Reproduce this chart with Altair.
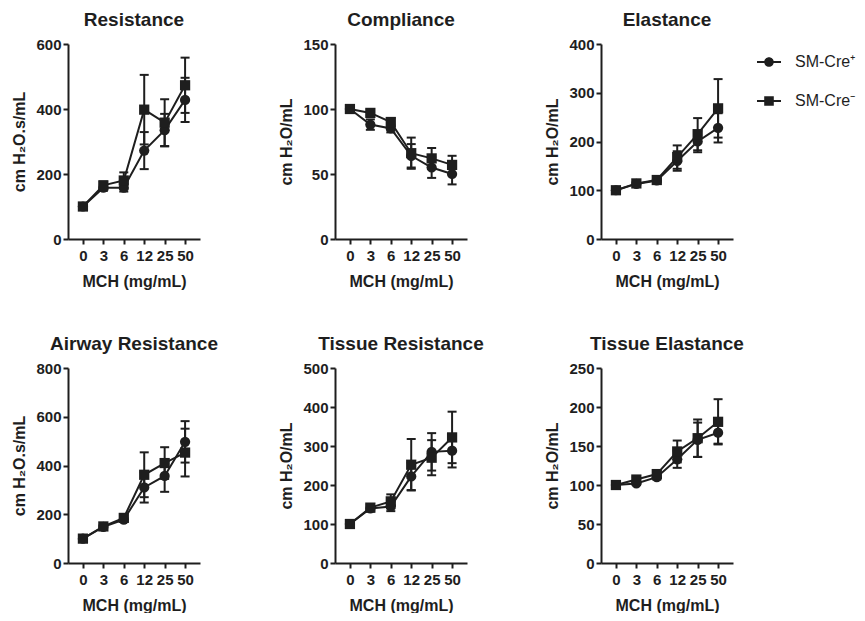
import altair as alt
import pandas as pd

doses = ["0", "3", "6", "12", "25", "50"]
series = ["SM-Cre\u207a", "SM-Cre\u207b"]

# Resistance
res_pos = [100, 158, 158, 272, 335, 428]
res_pos_sem = [0, 10, 12, 57, 50, 68]
res_neg = [100, 165, 180, 398, 358, 473]
res_neg_sem = [0, 12, 25, 107, 72, 85]
# Compliance
comp_pos = [100, 88, 85, 64, 55, 50]
comp_pos_sem = [0, 4, 3, 9, 8, 8]
comp_neg = [100, 97, 90, 66, 62, 57]
comp_neg_sem = [0, 2, 3, 12, 8, 7]
# Elastance
el_pos = [100, 113, 120, 160, 200, 228]
el_pos_sem = [0, 3, 4, 20, 22, 30]
el_neg = [100, 114, 121, 168, 215, 268]
el_neg_sem = [0, 3, 4, 24, 33, 60]
# Airway Resistance
aw_pos = [100, 148, 178, 310, 357, 497]
aw_pos_sem = [0, 6, 8, 62, 65, 85]
aw_neg = [100, 150, 185, 362, 410, 453]
aw_neg_sem = [0, 6, 10, 92, 65, 98]
# Tissue Resistance
tr_pos = [100, 140, 145, 222, 285, 288]
tr_pos_sem = [0, 8, 12, 35, 48, 43]
tr_neg = [100, 142, 158, 252, 270, 322]
tr_neg_sem = [0, 8, 18, 66, 45, 66]
# Tissue Elastance
te_pos = [100, 102, 110, 133, 158, 167]
te_pos_sem = [0, 2, 3, 11, 22, 14]
te_neg = [100, 107, 114, 143, 160, 181]
te_neg_sem = [0, 3, 5, 14, 24, 29]

INK = "#1e1e1e"
FONT = "Liberation Sans"

# legend glyphs: short (filled) bar through a marker
CIRC = "M-1,-0.08H1V0.08H-1ZM0.4,0A0.4,0.4,0,1,1,-0.4,0A0.4,0.4,0,1,1,0.4,0Z"
SQR = "M-1,-0.08H1V0.08H-1ZM-0.4,-0.4H0.4V0.4H-0.4Z"


def panel(title, ytitle, ymax, ystep, pos, pos_e, neg, neg_e, with_legend=False):
    rows = []
    for s, m, e in ((series[0], pos, pos_e), (series[1], neg, neg_e)):
        for i, d in enumerate(doses):
            rows.append({"series": s, "dose": d, "idx": i, "mean": m[i],
                         "lo": m[i] - e[i], "hi": m[i] + e[i]})
    df = pd.DataFrame(rows)

    x = alt.X("dose:N", sort=doses,
              scale=alt.Scale(type="point", padding=0.73),
              axis=alt.Axis(title="MCH (mg/mL)", labelAngle=0))
    yscale = alt.Scale(domain=[0, ymax], nice=False, zero=True)
    yaxis = alt.Axis(title=ytitle, values=list(range(0, ymax + 1, ystep)))

    def Y(f):
        return alt.Y(f"{f}:Q", scale=yscale, axis=yaxis)

    base = alt.Chart(df).encode(x=x)
    lines = base.mark_line(color=INK, strokeWidth=2).encode(
        y=Y("mean"), detail="series:N", order="idx:Q")
    bars = base.mark_rule(color=INK, strokeWidth=2).encode(y=Y("lo"), y2="hi:Q")
    cap_hi = base.mark_tick(color=INK, size=9, thickness=2, opacity=1).encode(y=Y("hi"))
    cap_lo = base.mark_tick(color=INK, size=9, thickness=2, opacity=1).encode(y=Y("lo"))
    pts = base.mark_point(filled=True, size=105, opacity=1, color=INK).encode(
        y=Y("mean"),
        shape=alt.Shape("series:N", scale=alt.Scale(domain=series, range=["circle", "square"]),
                        legend=None),
    )
    layers = [lines, bars, cap_hi, cap_lo, pts]
    if with_legend:
        leg = base.transform_filter("false").mark_point(
            filled=True, size=100, color=INK).encode(
            y=Y("mean"),
            shape=alt.Shape(
                "series:N",
                scale=alt.Scale(domain=series, range=[CIRC, SQR]),
                legend=alt.Legend(
                    title=None, orient="none", legendX=156, legendY=6,
                    symbolSize=576, symbolStrokeWidth=0,
                    symbolFillColor=INK, symbolOpacity=1,
                    labelFont=FONT, labelFontSize=16, labelColor=INK,
                    labelOffset=14, rowPadding=19,
                ),
            ),
        )
        layers.append(leg)
    ch = alt.layer(*layers)
    if with_legend:
        ch = ch.resolve_scale(shape="independent")
    return ch.properties(
        width=132, height=195,
        title=alt.Title(title, fontSize=19, fontWeight="bold", font=FONT, color=INK,
                        anchor="middle", offset=7),
    )


panels = [
    panel("Resistance", "cm H\u2082O.s/mL", 600, 200, res_pos, res_pos_sem, res_neg, res_neg_sem),
    panel("Compliance", "cm H\u2082O/mL", 150, 50, comp_pos, comp_pos_sem, comp_neg, comp_neg_sem),
    panel("Elastance", "cm H\u2082O/mL", 400, 100, el_pos, el_pos_sem, el_neg, el_neg_sem, True),
    panel("Airway Resistance", "cm H\u2082O.s/mL", 800, 200, aw_pos, aw_pos_sem, aw_neg, aw_neg_sem),
    panel("Tissue Resistance", "cm H\u2082O/mL", 500, 100, tr_pos, tr_pos_sem, tr_neg, tr_neg_sem),
    panel("Tissue Elastance", "cm H\u2082O/mL", 250, 50, te_pos, te_pos_sem, te_neg, te_neg_sem),
]

chart = alt.concat(*panels, columns=3, spacing={"column": 60, "row": 46}).resolve_scale(
    shape="independent"
).properties(
    padding={"left": 3, "top": 3, "right": 0, "bottom": 0},
    background="white",
).configure_view(stroke=None).configure_axis(
    grid=False,
    domainColor=INK, domainWidth=2,
    tickColor=INK, tickWidth=2, tickSize=5,
    labelFont=FONT, labelFontSize=15, labelFontWeight="bold", labelColor=INK, labelPadding=2,
    titleFont=FONT, titleFontSize=16, titleFontWeight="bold", titleColor=INK, titlePadding=8,
).configure_axisX(labelPadding=4, titlePadding=10)

chart.save("out.html", embed_options={"renderer": "svg", "actions": False})
